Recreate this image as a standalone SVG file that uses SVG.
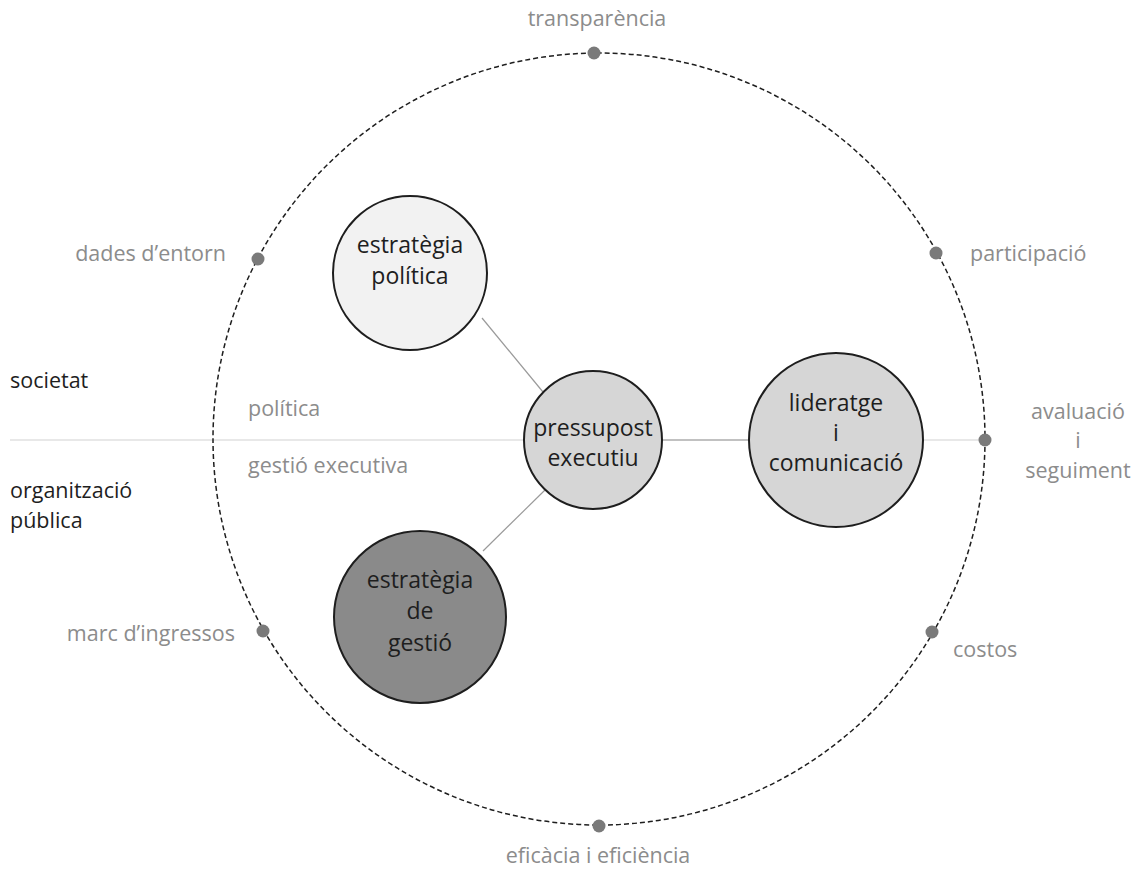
<svg xmlns="http://www.w3.org/2000/svg" width="1138" height="869" viewBox="0 0 1138 869">
<style>
text{font-family:"Open Sans","Liberation Sans",sans-serif;font-size:21.5px}
.g{fill:#8c8c8c}
.k{fill:#1e1e1e}
.n{fill:#1e1e1e;font-size:23px;text-anchor:middle}
.m{text-anchor:middle}
.e{text-anchor:end}
.node{stroke:#1e1e1e;stroke-width:2}
.dot{fill:#7a7a7a}
</style>
<rect width="1138" height="869" fill="#fff"/>
<g id="connectors">
<line x1="10" y1="440" x2="985" y2="440" stroke="#e0e0e0" stroke-width="1.5"/>
<line x1="662" y1="440" x2="749" y2="440" stroke="#9a9a9a" stroke-width="1.2"/>
<line x1="482" y1="318" x2="543" y2="392" stroke="#9a9a9a" stroke-width="1.2"/>
<line x1="545" y1="490" x2="483" y2="551" stroke="#9a9a9a" stroke-width="1.2"/>
</g>
<g id="ring">
<circle cx="599" cy="439" r="386" fill="none" stroke="#1e1e1e" stroke-width="1.5" stroke-dasharray="5 3"/>
</g>
<g id="dots">
<circle class="dot" cx="594" cy="53" r="6.5"/>
<circle class="dot" cx="258" cy="259" r="6.5"/>
<circle class="dot" cx="936" cy="253" r="6.5"/>
<circle class="dot" cx="985" cy="440" r="6.5"/>
<circle class="dot" cx="263" cy="631" r="6.5"/>
<circle class="dot" cx="932" cy="632" r="6.5"/>
<circle class="dot" cx="599" cy="826" r="6.5"/>
</g>
<g id="labels">
<text class="g m" x="597" y="26">transparència</text>
<text class="g e" x="226" y="261">dades d’entorn</text>
<text class="g" x="970" y="261">participació</text>
<text class="k" x="10" y="388">societat</text>
<text class="g" x="248" y="416">política</text>
<text class="g" x="248" y="473">gestió executiva</text>
<text class="k" x="10" y="498">organització</text>
<text class="k" x="10" y="528">pública</text>
<text class="g m" x="1078" y="419">avaluació</text>
<text class="g m" x="1078" y="448">i</text>
<text class="g m" x="1078" y="478">seguiment</text>
<text class="g e" x="235" y="641">marc d’ingressos</text>
<text class="g" x="953" y="657">costos</text>
<text class="g m" x="598" y="863">eficàcia i eficiència</text>
</g>
<g id="estrategia-politica">
<circle class="node" cx="410" cy="273" r="77" fill="#f2f2f2"/>
<text class="n" x="410" y="253">estratègia</text>
<text class="n" x="410" y="284">política</text>
</g>
<g id="pressupost-executiu">
<circle class="node" cx="593" cy="440" r="69" fill="#d6d6d6"/>
<text class="n" x="593" y="436">pressupost</text>
<text class="n" x="593" y="466">executiu</text>
</g>
<g id="lideratge-comunicacio">
<circle class="node" cx="836" cy="440" r="87" fill="#d6d6d6"/>
<text class="n" x="836" y="411">lideratge</text>
<text class="n" x="836" y="441">i</text>
<text class="n" x="836" y="471">comunicació</text>
</g>
<g id="estrategia-gestio">
<circle class="node" cx="420" cy="617" r="86" fill="#8a8a8a"/>
<text class="n" x="420" y="588">estratègia</text>
<text class="n" x="420" y="619">de</text>
<text class="n" x="420" y="651">gestió</text>
</g>
</svg>
